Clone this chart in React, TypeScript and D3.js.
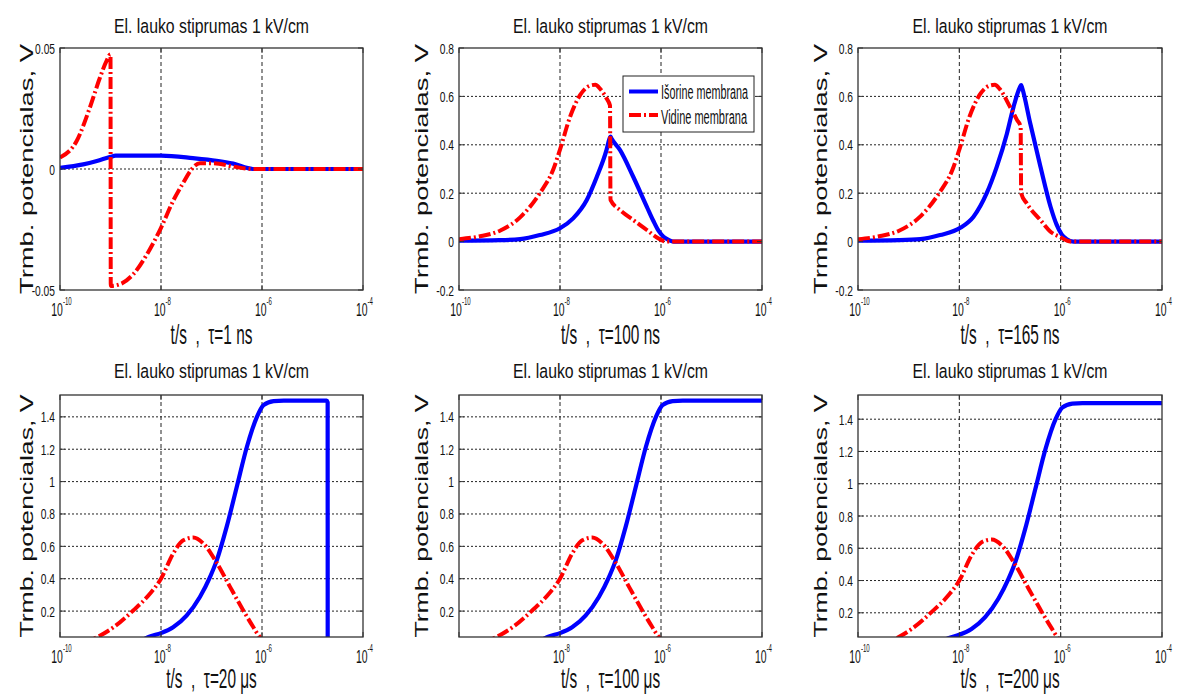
import React from 'react';
import * as d3 from 'd3';

// Each point: [log10(t / s), potential in V]
type Pt = [number, number];

const titleText = 'El. lauko stiprumas 1 kV/cm';
const yLabelText = 'Trmb. potencialas, V';
const legendLabels = ['Išorine membrana', 'Vidine membrana'];
const xLabels = [
  't/s  ,  τ=1 ns',
  't/s  ,  τ=100 ns',
  't/s  ,  τ=165 ns',
  't/s  ,  τ=20 μs',
  't/s  ,  τ=100 μs',
  't/s  ,  τ=200 μs',
];
const xTickExps = [-10, -8, -6, -4];
const yTicksSmall = [-0.05, 0, 0.05];
const yTicksPulse = [-0.2, 0, 0.2, 0.4, 0.6, 0.8];
const yTicksLong = [0.2, 0.4, 0.6, 0.8, 1, 1.2, 1.4];

// Panel 1, tau = 1 ns
const p1Outer: Pt[] = [
  [-10, 0.0005], [-9.54, 0.0019], [-9.27, 0.0033], [-9.0, 0.005], [-8.9, 0.0055],
  [-8.0, 0.0055], [-7.37, 0.0045], [-6.9, 0.0034], [-6.57, 0.0022], [-6.18, 0], [-4, 0],
];
const p1Inner: Pt[] = [
  [-10, 0.0047], [-9.67, 0.0116], [-9.41, 0.0253], [-9.21, 0.0377], [-9.08, 0.0446],
  [-9.0, 0.0474], [-8.995, -0.0483], [-8.8, -0.0475], [-8.55, -0.0435], [-8.28, -0.0353],
  [-8.0, -0.0243], [-7.76, -0.0132], [-7.56, -0.0057], [-7.39, 0], [-7.23, 0.0024],
  [-6.96, 0.0024], [-6.57, 0.001], [-6.18, 0], [-4, 0],
];

// Panel 2, tau = 100 ns
const p2Outer: Pt[] = [
  [-10, 0.004], [-9.2, 0.006], [-8.79, 0.01], [-8.4, 0.027], [-8.0, 0.055], [-7.74, 0.096],
  [-7.47, 0.172], [-7.27, 0.268], [-7.08, 0.378], [-7.02, 0.425], [-7.0, 0.434], [-6.98, 0.426],
  [-6.81, 0.378], [-6.55, 0.268], [-6.28, 0.144], [-6.15, 0.085], [-6.05, 0.045],
  [-5.95, 0.02], [-5.85, 0.007], [-5.75, 0], [-4, 0],
];
const p2Inner: Pt[] = [
  [-10, 0.01], [-9.58, 0.022], [-9.19, 0.045], [-8.79, 0.1], [-8.4, 0.2], [-8.13, 0.3],
  [-8.0, 0.38], [-7.8, 0.516], [-7.6, 0.606], [-7.4, 0.645], [-7.3, 0.648], [-7.2, 0.63],
  [-7.08, 0.592], [-7.01, 0.562], [-7.0, 0.172], [-6.81, 0.13], [-6.55, 0.089],
  [-6.28, 0.048], [-6.09, 0.018], [-5.89, 0], [-4, 0],
];

// Panel 3, tau = 165 ns
const p3Outer: Pt[] = [
  [-10, 0.004], [-9.2, 0.006], [-8.77, 0.01], [-8.38, 0.027], [-7.98, 0.057], [-7.72, 0.103],
  [-7.46, 0.2], [-7.26, 0.31], [-7.06, 0.447], [-6.93, 0.557], [-6.8, 0.64], [-6.78, 0.647],
  [-6.76, 0.635], [-6.6, 0.488], [-6.4, 0.31], [-6.2, 0.144], [-6.08, 0.07], [-5.98, 0.03],
  [-5.88, 0.01], [-5.75, 0], [-4, 0],
];
const p3Inner: Pt[] = [
  [-10, 0.01], [-9.58, 0.022], [-9.19, 0.045], [-8.79, 0.1], [-8.4, 0.2], [-8.13, 0.3],
  [-8.0, 0.38], [-7.8, 0.516], [-7.6, 0.606], [-7.4, 0.645], [-7.3, 0.648], [-7.2, 0.63],
  [-7.0, 0.557], [-6.86, 0.502], [-6.79, 0.475], [-6.78, 0.2], [-6.67, 0.158], [-6.4, 0.089],
  [-6.2, 0.041], [-6.0, 0.018], [-5.81, 0], [-4, 0],
];

// Panels 4-6, tau = 20, 100, 200 us
const longInner: Pt[] = [
  [-9.6, 0], [-9.24, 0.043], [-8.94, 0.1], [-8.55, 0.204], [-8.22, 0.307], [-8.0, 0.4],
  [-7.76, 0.555], [-7.56, 0.637], [-7.36, 0.654], [-7.16, 0.617], [-6.9, 0.5], [-6.63, 0.348],
  [-6.37, 0.204], [-6.17, 0.1], [-6.05, 0.043], [-5.8, 0], [-4, 0],
];
const longOuter: Pt[] = [
  [-8.5, 0], [-8.22, 0.043], [-8.0, 0.064], [-7.76, 0.1], [-7.49, 0.173], [-7.23, 0.287],
  [-7.03, 0.41], [-6.9, 0.51], [-6.7, 0.72], [-6.5, 0.967], [-6.3, 1.214], [-6.1, 1.4],
  [-5.97, 1.472], [-5.77, 1.497], [-5.57, 1.5], [-4, 1.5],
];
const p4Outer: Pt[] = [
  [-8.5, 0], [-8.22, 0.043], [-8.0, 0.064], [-7.76, 0.1], [-7.49, 0.173], [-7.23, 0.287],
  [-7.03, 0.41], [-6.9, 0.51], [-6.7, 0.72], [-6.5, 0.967], [-6.3, 1.214], [-6.1, 1.4],
  [-5.97, 1.472], [-5.77, 1.497], [-5.57, 1.5], [-4.72, 1.5], [-4.7, 1.49], [-4.699, 0], [-4, 0],
];

const yDomains: [number, number][] = [
  [-0.05, 0.05], [-0.2, 0.8], [-0.2, 0.8], [0.04, 1.535], [0.04, 1.535], [0.05, 1.55],
];

// Layout (pixels)
const frames = [
  { left: 60, top: 48, right: 363, bottom: 290 },
  { left: 459, top: 48, right: 762, bottom: 290 },
  { left: 858, top: 48, right: 1162, bottom: 290 },
  { left: 60, top: 395, right: 363, bottom: 637 },
  { left: 459, top: 395, right: 762, bottom: 637 },
  { left: 858, top: 395, right: 1162, bottom: 637 },
];

const panels = [
  { outer: p1Outer, inner: p1Inner, yTicks: yTicksSmall, legend: false, firstXTick: true },
  { outer: p2Outer, inner: p2Inner, yTicks: yTicksPulse, legend: true, firstXTick: true },
  { outer: p3Outer, inner: p3Inner, yTicks: yTicksPulse, legend: false, firstXTick: true },
  { outer: p4Outer, inner: longInner, yTicks: yTicksLong, legend: false, firstXTick: true },
  { outer: longOuter, inner: longInner, yTicks: yTicksLong, legend: false, firstXTick: false },
  { outer: longOuter, inner: longInner, yTicks: yTicksLong, legend: false, firstXTick: true },
];

const BLUE = '#0000ff';
const RED = '#ff0000';
const DASHDOT = '12,3,2,3';
const FONT = '"Liberation Sans", Arial, sans-serif';

function Panel({ idx }: { idx: number }) {
  const f = frames[idx];
  const p = panels[idx];
  const x = d3.scaleLog().domain([1e-10, 1e-4]).range([f.left, f.right]);
  const y = d3.scaleLinear().domain(yDomains[idx]).range([f.bottom, f.top]);
  const line = d3
    .line<Pt>()
    .x((d) => x(Math.pow(10, d[0])))
    .y((d) => y(d[1]))
    .curve(d3.curveMonotoneX);
  const cx = (f.left + f.right) / 2;
  const cy = (f.top + f.bottom) / 2;
  const row = idx < 3 ? 0 : 1;
  const clipId = `clip${idx}`;
  const gridColor = '#222';
  const innerX = xTickExps.filter((e) => e > -10 && e < -4);
  const innerY = p.yTicks.filter((v) => y(v) > f.top + 0.5 && y(v) < f.bottom - 0.5);
  const labelOffset = idx % 3 === 0 ? 27 : 31;
  return (
    <g>
      <defs>
        <clipPath id={clipId}>
          <rect x={f.left} y={f.top} width={f.right - f.left} height={f.bottom - f.top} />
        </clipPath>
      </defs>
      <rect x={f.left} y={f.top} width={f.right - f.left} height={f.bottom - f.top} fill="#fff" />
      {innerX.map((e) => (
        <line key={'vx' + e} x1={x(Math.pow(10, e))} x2={x(Math.pow(10, e))} y1={f.top} y2={f.bottom}
          stroke={gridColor} strokeWidth={1} strokeDasharray="4,3" />
      ))}
      {innerY.map((v) => (
        <line key={'hy' + v} x1={f.left} x2={f.right} y1={y(v)} y2={y(v)}
          stroke={gridColor} strokeWidth={1} strokeDasharray="2,2" />
      ))}
      <g clipPath={`url(#${clipId})`}>
        <path d={line(p.outer) || ''} fill="none" stroke={BLUE} strokeWidth={4.2} strokeLinejoin="round" />
        <path d={line(p.inner) || ''} fill="none" stroke={RED} strokeWidth={4} strokeDasharray={DASHDOT} />
      </g>
      <rect x={f.left} y={f.top} width={f.right - f.left} height={f.bottom - f.top}
        fill="none" stroke="#333" strokeWidth={1.3} />
      {xTickExps.map((e) => {
        const xx = x(Math.pow(10, e));
        return (
          <g key={'xt' + e}>
            <line x1={xx} x2={xx} y1={f.bottom} y2={f.bottom - 5} stroke="#333" />
            <line x1={xx} x2={xx} y1={f.top} y2={f.top + 5} stroke="#333" />
          </g>
        );
      })}
      {p.yTicks.map((v) => (
        <g key={'yt' + v}>
          <line x1={f.left} x2={f.left + 5} y1={y(v)} y2={y(v)} stroke="#333" />
          <line x1={f.right} x2={f.right - 5} y1={y(v)} y2={y(v)} stroke="#333" />
          <text transform={`translate(${f.left - 5},${y(v) + 5.5}) scale(0.66,1)`}
            textAnchor="end" fontSize={15.5} fill="#111">{String(v)}</text>
        </g>
      ))}
      {xTickExps
        .filter((e) => p.firstXTick || e !== -10)
        .map((e) => (
          <text key={'xl' + e}
            transform={`translate(${x(Math.pow(10, e)) + 1.5},${f.bottom + 26}) scale(0.58,1)`}
            textAnchor="middle" fill="#111">
            <tspan fontSize={18}>10</tspan>
            <tspan fontSize={10.5} dy={-11}>{String(e)}</tspan>
          </text>
        ))}
      <text x={cx} y={row === 0 ? 33 : 378} textAnchor="middle" fontSize={20.5}
        textLength={195} lengthAdjust="spacingAndGlyphs" fill="#111">{titleText}</text>
      <text transform={`translate(${f.left - labelOffset},${cy}) rotate(-90)`} textAnchor="middle"
        fontSize={19} textLength={row === 0 ? 250 : 243} lengthAdjust="spacingAndGlyphs" fill="#111">
        {yLabelText}
      </text>
      <text transform={`translate(${cx},${row === 0 ? f.bottom + 54 : f.bottom + 51}) scale(0.57,1)`}
        textAnchor="middle" fontSize={27} fill="#111" style={{ whiteSpace: 'pre' }}>{xLabels[idx]}</text>
      {p.legend && (
        <g>
          <rect x={623} y={76} width={131} height={56} fill="#fff" stroke="#222" strokeWidth={1} />
          <line x1={629} x2={658} y1={91.5} y2={91.5} stroke={BLUE} strokeWidth={4} />
          <line x1={629} x2={658} y1={115} y2={115} stroke={RED} strokeWidth={4} strokeDasharray={DASHDOT} />
          <text x={661} y={98.5} fontSize={20} textLength={87} lengthAdjust="spacingAndGlyphs" fill="#111">
            {legendLabels[0]}
          </text>
          <text x={661} y={124} fontSize={20} textLength={86} lengthAdjust="spacingAndGlyphs" fill="#111">
            {legendLabels[1]}
          </text>
        </g>
      )}
    </g>
  );
}

export default function App() {
  return (
    <svg width={1181} height={695} style={{ position: 'absolute', left: 0, top: 0, background: '#fff' }}
      fontFamily={FONT}>
      <rect x={0} y={0} width={1181} height={695} fill="#fff" />
      {frames.map((_, i) => (
        <Panel key={i} idx={i} />
      ))}
    </svg>
  );
}
